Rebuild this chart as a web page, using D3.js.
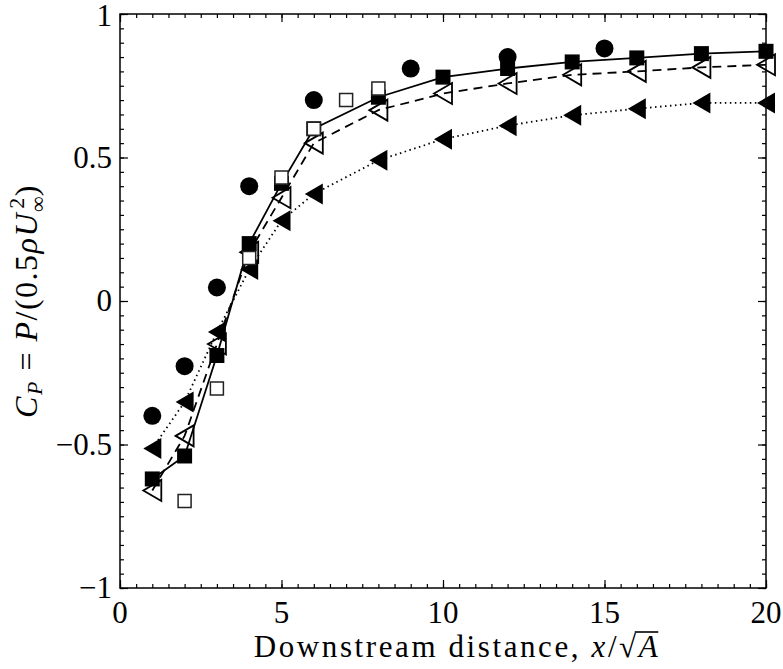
<!DOCTYPE html>
<html>
<head>
<meta charset="utf-8">
<script src="https://cdn.jsdelivr.net/npm/d3@7"></script>
<style>
  body { margin: 0; background: #fff; }
  svg text { font-family: "Liberation Serif", "Times New Roman", serif; fill: #000; }
</style>
</head>
<body>
<div class="plot"></div>
<script>
// values
let xTicks = [0, 5, 10, 15, 20]
let yTicks = [-1, -0.5, 0, 0.5, 1]

// filled squares, solid line
let sqX = [1, 2, 3, 4, 5, 6, 8, 10, 12, 14, 16, 18, 20]
let sqY = [-0.62, -0.54, -0.19, 0.20, 0.41, 0.60, 0.71, 0.78, 0.81, 0.833, 0.847, 0.862, 0.87]

// open triangles, dashed line
let otX = [1, 2, 3, 4, 5, 6, 8, 10, 12, 14, 16, 18, 20]
let otY = [-0.66, -0.47, -0.15, 0.17, 0.36, 0.55, 0.665, 0.723, 0.758, 0.788, 0.80, 0.814, 0.823]

// filled triangles, dotted line
let ftX = [1, 2, 3, 4, 5, 6, 8, 10, 12, 14, 16, 18, 20]
let ftY = [-0.514, -0.352, -0.108, 0.11, 0.28, 0.373, 0.49, 0.564, 0.611, 0.647, 0.67, 0.69, 0.69]

// open squares, no line
let osX = [2, 3, 4, 5, 6, 7, 8]
let osY = [-0.697, -0.305, 0.15, 0.43, 0.60, 0.70, 0.74]

// filled circles, no line
let ciX = [1, 2, 3, 4, 6, 9, 12, 15]
let ciY = [-0.40, -0.227, 0.047, 0.40, 0.70, 0.81, 0.85, 0.88]

let W = 783, H = 669
let margin = {top: 14, right: 17, bottom: 81, left: 120}
let width = W - margin.left - margin.right,
    height = H - margin.top - margin.bottom

let svg = d3.select(".plot").append("svg")
    .attr("width", W)
    .attr("height", H)
let g = svg.append("g")
    .attr("transform", "translate(" + margin.left + "," + margin.top + ")")

let x = d3.scaleLinear().domain([0, 20]).range([0, width])
let y = d3.scaleLinear().domain([-1, 1]).range([height, 0])

// minor + major ticks, all pointing inwards
function ticks(axis, scale, vals, len){
  return axis(scale).tickValues(vals).tickSize(-len).tickFormat("")
}
let xMinor = d3.range(0, 20.01, 0.5)
let yMinor = d3.range(-1, 1.001, 0.05)
let tickStyle = function(sel){
  sel.select(".domain").remove()
  sel.selectAll(".tick line").attr("stroke", "#000").attr("stroke-width", 1.2)
}
g.append("g").attr("transform", "translate(0," + height + ")").call(ticks(d3.axisBottom, x, xMinor, 4)).call(tickStyle)
g.append("g").attr("transform", "translate(0," + height + ")").call(ticks(d3.axisBottom, x, xTicks, 8)).call(tickStyle)
g.append("g").call(ticks(d3.axisTop, x, xMinor, 4)).call(tickStyle)
g.append("g").call(ticks(d3.axisTop, x, xTicks, 8)).call(tickStyle)
g.append("g").call(ticks(d3.axisLeft, y, yMinor, 4)).call(tickStyle)
g.append("g").call(ticks(d3.axisLeft, y, yTicks, 8)).call(tickStyle)
g.append("g").attr("transform", "translate(" + width + ",0)").call(ticks(d3.axisRight, y, yMinor, 4)).call(tickStyle)
g.append("g").attr("transform", "translate(" + width + ",0)").call(ticks(d3.axisRight, y, yTicks, 8)).call(tickStyle)

// tick labels
let fmt = function(v){ return v < 0 ? "\u2212" + Math.abs(v) : String(v) }
g.selectAll(".xlab").data(xTicks).enter().append("text")
    .attr("x", function(d){ return x(d) })
    .attr("y", height + 35)
    .attr("text-anchor", "middle")
    .style("font-size", "31px")
    .text(fmt)
g.selectAll(".ylab").data(yTicks).enter().append("text")
    .attr("x", -8)
    .attr("y", function(d){ return y(d) + (d == 1 ? 12 : 10) })
    .attr("text-anchor", "end")
    .style("font-size", "31px")
    .text(fmt)

// series lines
let line = d3.line()
    .x(function(d){ return x(d[0]) })
    .y(function(d){ return y(d[1]) })
let zip = function(a, b){ return a.map(function(v, i){ return [v, b[i]] }) }

let ftData = zip(ftX, ftY), otData = zip(otX, otY), sqData = zip(sqX, sqY)
let osData = zip(osX, osY), ciData = zip(ciX, ciY)

let plot = g.append("g")
plot.append("path").datum(ftData).attr("d", line)
    .attr("fill", "none").attr("stroke", "#000").attr("stroke-width", 1.8)
    .attr("stroke-dasharray", "1.5,3.5")
plot.append("path").datum(otData).attr("d", line)
    .attr("fill", "none").attr("stroke", "#000").attr("stroke-width", 1.8)
    .attr("stroke-dasharray", "9,6")
plot.append("path").datum(sqData).attr("d", line)
    .attr("fill", "none").attr("stroke", "#000").attr("stroke-width", 1.8)

// left-pointing triangle, centred on the point
let triPath = "M-9,0L9,-10.5L9,10.5Z"
let pos = function(d){ return "translate(" + x(d[0]) + "," + y(d[1]) + ")" }

plot.selectAll(".ft").data(ftData).enter().append("path")
    .attr("transform", pos).attr("d", triPath)
    .attr("fill", "#000")
plot.selectAll(".ot").data(otData).enter().append("path")
    .attr("transform", pos).attr("d", triPath)
    .attr("fill", "none").attr("stroke", "#000").attr("stroke-width", 1.8)
plot.selectAll(".sq").data(sqData).enter().append("path")
    .attr("transform", pos).attr("d", d3.symbol(d3.symbolSquare, 15 * 15))
    .attr("fill", "#000")
plot.selectAll(".os").data(osData).enter().append("path")
    .attr("transform", pos).attr("d", d3.symbol(d3.symbolSquare, 13 * 13))
    .attr("fill", "#fff").attr("stroke", "#222").attr("stroke-width", 1.5)
plot.selectAll(".ci").data(ciData).enter().append("path")
    .attr("transform", pos).attr("d", d3.symbol(d3.symbolCircle, Math.PI * 9 * 9))
    .attr("fill", "#000")

// box
g.append("rect")
    .attr("width", width).attr("height", height)
    .attr("fill", "none").attr("stroke", "#000").attr("stroke-width", 1.5)

// x axis label
let xl = svg.append("text")
    .attr("x", margin.left + width / 2 + 14)
    .attr("y", H - 12)
    .attr("text-anchor", "middle")
    .style("font-size", "31px")
    .style("letter-spacing", "2.6px")
xl.append("tspan").text("Downstream distance, ")
xl.append("tspan").style("font-style", "italic").text("x")
xl.append("tspan").text("/\u221A")
let aSpan = xl.append("tspan").style("font-style", "italic").text("A")
let ab = aSpan.node().getBBox()
svg.append("line")
    .attr("x1", ab.x - 2).attr("x2", ab.x + ab.width - 2)
    .attr("y1", ab.y + 3).attr("y2", ab.y + 3)
    .attr("stroke", "#000").attr("stroke-width", 1.6)

// y axis label
let yl = svg.append("text")
    .attr("transform", "translate(37," + (margin.top + height / 2) + ") rotate(-90)")
    .attr("text-anchor", "middle")
    .style("font-size", "32px")
    .style("letter-spacing", "1.5px")
yl.append("tspan").style("font-style", "italic").text("C")
yl.append("tspan").style("font-style", "italic").style("font-size", "22px").attr("dy", 5).text("P")
yl.append("tspan").attr("dy", -5).text(" = ")
yl.append("tspan").style("font-style", "italic").text("P")
yl.append("tspan").text("/(0.5")
yl.append("tspan").style("font-style", "italic").text("\u03C1U")
yl.append("tspan").style("font-size", "22px").attr("dy", 8).text("\u221E")
yl.append("tspan").style("font-size", "22px").attr("dx", -14).attr("dy", -21).text("2")
yl.append("tspan").attr("dy", 13).text(")")
</script>
</body>
</html>
